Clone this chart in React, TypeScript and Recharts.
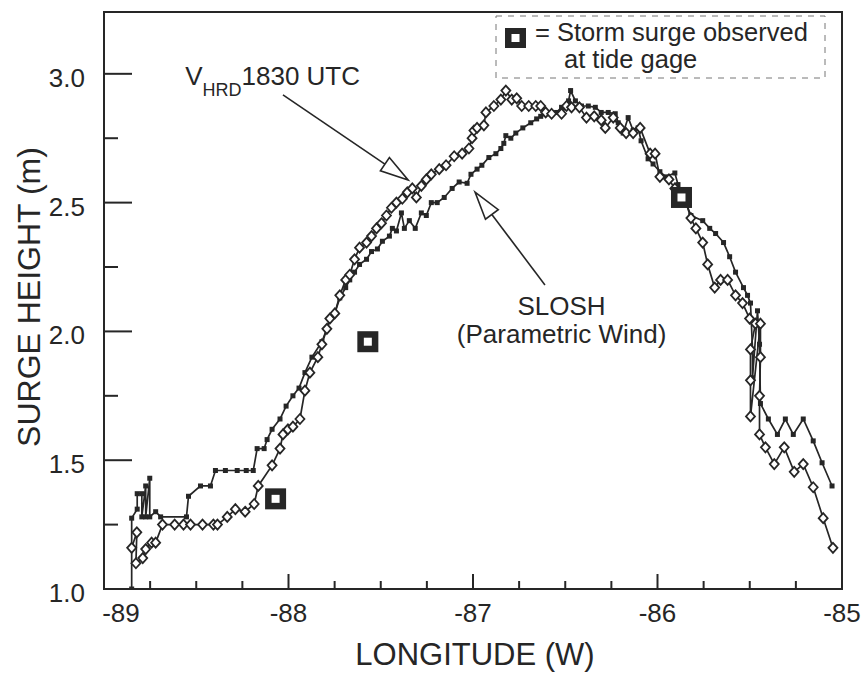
import { ComposedChart, Line, Scatter, XAxis, YAxis, ReferenceArea } from 'recharts';

// SLOSH (parametric wind) run, small filled squares
const SLOSH_LON = [
  -88.85, -88.85, -88.82, -88.82, -88.795, -88.795, -88.774, -88.774, -88.752, -88.752,
  -88.72, -88.693, -88.553, -88.542, -88.477, -88.423, -88.396, -88.342, -88.278, -88.229,
  -88.191, -88.17, -88.132, -88.116, -88.089, -88.046, -88.013, -87.976, -87.943, -87.911,
  -87.873, -87.819, -87.792, -87.776, -87.749, -87.722, -87.69, -87.668, -87.642, -87.615,
  -87.577, -87.55, -87.518, -87.491, -87.453, -87.437, -87.415, -87.388, -87.372, -87.345,
  -87.313, -87.28, -87.253, -87.226, -87.194, -87.156, -87.113, -87.075, -87.032, -87.011,
  -86.978, -86.952, -86.914, -86.876, -86.849, -86.833, -86.822, -86.795, -86.768, -86.73,
  -86.687, -86.655, -86.633, -86.59, -86.547, -86.52, -86.482, -86.471, -86.445, -86.412,
  -86.375, -86.337, -86.305, -86.267, -86.229, -86.213, -86.186, -86.159, -86.132, -86.105,
  -86.089, -86.051, -86.024, -85.987, -85.954, -85.906, -85.889, -85.852, -85.819, -85.755,
  -85.717, -85.685, -85.642, -85.609, -85.577, -85.534, -85.512, -85.496, -85.485, -85.485,
  -85.458, -85.447, -85.442, -85.399, -85.35, -85.307, -85.264, -85.21, -85.156, -85.108,
  -85.054,
];
const SLOSH_H = [
  1.0, 1.275, 1.31, 1.37, 1.37, 1.28, 1.4, 1.28, 1.43, 1.28,
  1.3, 1.28, 1.28, 1.36, 1.4, 1.4, 1.46, 1.46, 1.46, 1.46,
  1.46, 1.545, 1.545, 1.58, 1.62, 1.66, 1.71, 1.75, 1.78, 1.84,
  1.9, 1.96, 2.01, 2.05, 2.07, 2.13, 2.17, 2.2, 2.23, 2.26,
  2.28, 2.31, 2.32, 2.35, 2.37, 2.4, 2.39, 2.46, 2.4, 2.43,
  2.4, 2.46, 2.45, 2.5, 2.5, 2.52, 2.555, 2.58, 2.575, 2.61,
  2.63, 2.645, 2.675, 2.69, 2.71, 2.73, 2.76, 2.75, 2.77, 2.79,
  2.81, 2.825, 2.835, 2.845, 2.85, 2.87, 2.895, 2.935, 2.895, 2.875,
  2.875, 2.87, 2.85, 2.85, 2.845, 2.81, 2.77, 2.83, 2.78, 2.79,
  2.74, 2.67, 2.65, 2.62, 2.6, 2.615, 2.57, 2.51, 2.45, 2.43,
  2.4, 2.38, 2.345, 2.29, 2.23, 2.17, 2.14, 2.11, 1.93, 1.82,
  2.08, 1.95, 1.72, 1.66, 1.6, 1.66, 1.6, 1.66, 1.575, 1.49,
  1.4,
];

// VHRD 1830 UTC wind run, hollow diamonds
const VHRD_LON = [
  -88.85, -88.822, -88.827, -88.79, -88.774, -88.742, -88.72, -88.683, -88.617, -88.569,
  -88.531, -88.466, -88.407, -88.385, -88.332, -88.288, -88.235, -88.186, -88.164, -88.089,
  -88.046, -88.03, -88.003, -87.976, -87.938, -87.911, -87.884, -87.841, -87.819, -87.792,
  -87.776, -87.749, -87.722, -87.69, -87.668, -87.642, -87.615, -87.577, -87.55, -87.523,
  -87.496, -87.469, -87.442, -87.415, -87.383, -87.356, -87.329, -87.307, -87.28, -87.253,
  -87.226, -87.183, -87.146, -87.102, -87.059, -87.022, -87.005, -86.995, -86.978, -86.941,
  -86.93, -86.887, -86.849, -86.822, -86.79, -86.763, -86.736, -86.698, -86.66, -86.633,
  -86.606, -86.574, -86.52, -86.493, -86.466, -86.423, -86.385, -86.343, -86.305, -86.283,
  -86.24, -86.202, -86.17, -86.132, -86.094, -86.04, -86.013, -85.987, -85.938, -85.906,
  -85.852, -85.819, -85.792, -85.755, -85.728, -85.69, -85.658, -85.62, -85.577, -85.539,
  -85.501, -85.469, -85.496, -85.496, -85.496, -85.442, -85.442, -85.447, -85.447, -85.415,
  -85.367, -85.313, -85.259, -85.21, -85.156, -85.102, -85.049,
];
const VHRD_H = [
  1.16, 1.22, 1.1, 1.12, 1.155, 1.18, 1.18, 1.25, 1.25, 1.25,
  1.25, 1.25, 1.25, 1.25, 1.28, 1.31, 1.3, 1.33, 1.4, 1.48,
  1.545, 1.6, 1.62, 1.63, 1.66, 1.77, 1.84, 1.9, 1.95, 2.01,
  2.05, 2.07, 2.14, 2.2, 2.22, 2.28, 2.325, 2.345, 2.37, 2.4,
  2.42, 2.45, 2.48, 2.5, 2.515, 2.54, 2.555, 2.52, 2.565, 2.59,
  2.61, 2.63, 2.645, 2.68, 2.69, 2.71, 2.75, 2.78, 2.79, 2.8,
  2.85, 2.875, 2.9, 2.935, 2.9, 2.905, 2.875, 2.875, 2.875, 2.875,
  2.85, 2.845, 2.845, 2.875, 2.87, 2.87, 2.83, 2.835, 2.82, 2.79,
  2.83, 2.79, 2.77, 2.77, 2.79, 2.69, 2.69, 2.6, 2.59, 2.555,
  2.515, 2.44, 2.4, 2.345, 2.26, 2.17, 2.2, 2.2, 2.14, 2.11,
  2.05, 2.03, 1.93, 1.81, 1.67, 2.03, 1.9, 1.75, 1.6, 1.55,
  1.485, 1.55, 1.455, 1.485, 1.395, 1.275, 1.16,
];

// storm surge observed at tide gages
const OBS_LON = [-88.07, -87.57, -85.87];
const OBS_H = [1.35, 1.96, 2.52];

const X_TICKS = [-89, -88.75, -88.5, -88.25, -88, -87.75, -87.5, -87.25, -87, -86.75, -86.5, -86.25, -86, -85.75, -85.5, -85.25, -85];
const Y_TICKS = [1, 1.25, 1.5, 1.75, 2, 2.25, 2.5, 2.75, 3];

const slosh = SLOSH_LON.map((lon, i) => ({ lon, h: SLOSH_H[i] }));
const vhrd = VHRD_LON.map((lon, i) => ({ lon, h: VHRD_H[i] }));
const obs = OBS_LON.map((lon, i) => ({ lon, h: OBS_H[i] }));

const INK = '#262626';
const FONT = '"Liberation Sans", Arial, Helvetica, sans-serif';

const W = 866;
const H = 673;
const MARGIN = { top: 12, right: 24, left: 0, bottom: 0 };
const Y_AXIS_W = 104;
const X_AXIS_H = 84;
const X_DOMAIN = [-89, -85];
const Y_DOMAIN = [1, 3.24];

const PLOT_L = MARGIN.left + Y_AXIS_W;
const PLOT_T = MARGIN.top;
const PLOT_W = W - PLOT_L - MARGIN.right;
const PLOT_H = H - PLOT_T - X_AXIS_H;
const px = (lon: number) => PLOT_L + ((lon - X_DOMAIN[0]) / (X_DOMAIN[1] - X_DOMAIN[0])) * PLOT_W;
const py = (h: number) => PLOT_T + ((Y_DOMAIN[1] - h) / (Y_DOMAIN[1] - Y_DOMAIN[0])) * PLOT_H;

const isMajor = (v: number, step: number) => Math.abs(v / step - Math.round(v / step)) < 1e-6;

function XTick(props: any) {
  const { x, y, payload } = props;
  const v = payload.value;
  const major = isMajor(v, 1);
  return (
    <g>
      <line x1={x} x2={x} y1={y} y2={y - (major ? 15 : 8)} stroke={INK} strokeWidth={2} />
      {major && (
        <text x={x + (v === -89 ? 17 : 0)} y={y + 33} textAnchor="middle" fontSize={26} fontFamily={FONT} fill={INK}>
          {v}
        </text>
      )}
    </g>
  );
}

function YTick(props: any) {
  const { x, y, payload } = props;
  const v = payload.value;
  const major = isMajor(v, 0.5);
  return (
    <g>
      <line x1={x} x2={x + (major ? 28 : 14)} y1={y} y2={y} stroke={INK} strokeWidth={2} />
      {major && (
        <text x={x - 19} y={y + 13} textAnchor="end" fontSize={26} fontFamily={FONT} fill={INK}>
          {v.toFixed(1)}
        </text>
      )}
    </g>
  );
}

const SquareDot = (p: any) => (
  <rect key={`s${p.index}`} x={p.cx - 2.5} y={p.cy - 2.5} width={5} height={5} fill={INK} />
);

const DiamondDot = (p: any) => (
  <polygon
    key={`d${p.index}`}
    points={`${p.cx},${p.cy - 5} ${p.cx + 4.5},${p.cy} ${p.cx},${p.cy + 5} ${p.cx - 4.5},${p.cy}`}
    fill="#fff"
    stroke={INK}
    strokeWidth={1.8}
  />
);

const ObsShape = (p: any) => (
  <g>
    <rect x={p.cx - 10.5} y={p.cy - 10.5} width={21} height={21} fill={INK} />
    <rect x={p.cx - 4} y={p.cy - 4} width={8} height={8} fill="#fff" />
  </g>
);

function Arrow({ from, to }: { from: [number, number]; to: [number, number] }) {
  const x1 = px(from[0]);
  const y1 = py(from[1]);
  const x2 = px(to[0]);
  const y2 = py(to[1]);
  const len = Math.hypot(x2 - x1, y2 - y1);
  const ux = (x2 - x1) / len;
  const uy = (y2 - y1) / len;
  const L = 28;
  const Wd = 8;
  const bx = x2 - ux * L;
  const by = y2 - uy * L;
  return (
    <g>
      <line x1={x1} y1={y1} x2={bx} y2={by} stroke={INK} strokeWidth={1.6} />
      <polygon
        points={`${x2},${y2} ${bx - uy * Wd},${by + ux * Wd} ${bx + uy * Wd},${by - ux * Wd}`}
        fill="#fff"
        stroke={INK}
        strokeWidth={1.6}
      />
    </g>
  );
}

function Annotations() {
  return (
    <g fontFamily={FONT} fill={INK}>
      <text x={px(-88.56)} y={py(2.955)} fontSize={26}>
        V<tspan dy={11} fontSize={18}>HRD</tspan>
        <tspan dy={-11} fontSize={26}>1830 UTC</tspan>
      </text>
      <Arrow from={[-88.03, 2.918]} to={[-87.352, 2.588]} />
      <text x={px(-86.52)} y={py(2.063)} fontSize={26} textAnchor="middle">SLOSH</text>
      <text x={px(-86.52)} y={py(1.955)} fontSize={26} textAnchor="middle">(Parametric Wind)</text>
      <Arrow from={[-86.61, 2.18]} to={[-86.989, 2.541]} />

      <rect x={496} y={16} width={329} height={62} fill="#fff" stroke="#777" strokeWidth={1} strokeDasharray="6 6" />
      <rect x={505} y={28} width={21} height={20} fill={INK} />
      <rect x={511.5} y={34} width={8} height={8} fill="#fff" />
      <text x={535} y={41} fontSize={25.5}>= Storm surge observed</text>
      <text x={564} y={68} fontSize={25.5}>at tide gage</text>

      <text x={475} y={665} fontSize={31} textAnchor="middle">LONGITUDE (W)</text>
      <text transform="translate(40,297) rotate(-90)" x={0} y={0} fontSize={32} textAnchor="middle">
        SURGE HEIGHT (m)
      </text>
    </g>
  );
}

export default function App() {
  return (
    <div style={{ position: 'absolute', left: 0, top: 0, width: W, height: H, background: '#fff' }}>
      <ComposedChart width={W} height={H} margin={MARGIN}>
        <XAxis
          type="number"
          dataKey="lon"
          domain={X_DOMAIN}
          ticks={X_TICKS}
          interval={0}
          allowDataOverflow
          height={X_AXIS_H}
          tickSize={0}
          tickMargin={0}
          tickLine={false}
          axisLine={{ stroke: INK, strokeWidth: 2 }}
          tick={(p: any) => <XTick {...p} />}
        />
        <YAxis
          type="number"
          dataKey="h"
          domain={Y_DOMAIN}
          ticks={Y_TICKS}
          interval={0}
          allowDataOverflow
          width={Y_AXIS_W}
          tickSize={0}
          tickMargin={0}
          tickLine={false}
          axisLine={{ stroke: INK, strokeWidth: 2 }}
          tick={(p: any) => <YTick {...p} />}
        />
        <ReferenceArea x1={-89} x2={-85} y1={1} y2={3.24} fill="none" stroke={INK} strokeWidth={2} ifOverflow="visible" />
        <Line data={slosh} dataKey="h" stroke={INK} strokeWidth={1.7} dot={SquareDot} isAnimationActive={false} />
        <Line data={vhrd} dataKey="h" stroke={INK} strokeWidth={1.7} dot={DiamondDot} isAnimationActive={false} />
        <Scatter data={obs} dataKey="h" shape={ObsShape} isAnimationActive={false} />
        <Annotations />
      </ComposedChart>
    </div>
  );
}
